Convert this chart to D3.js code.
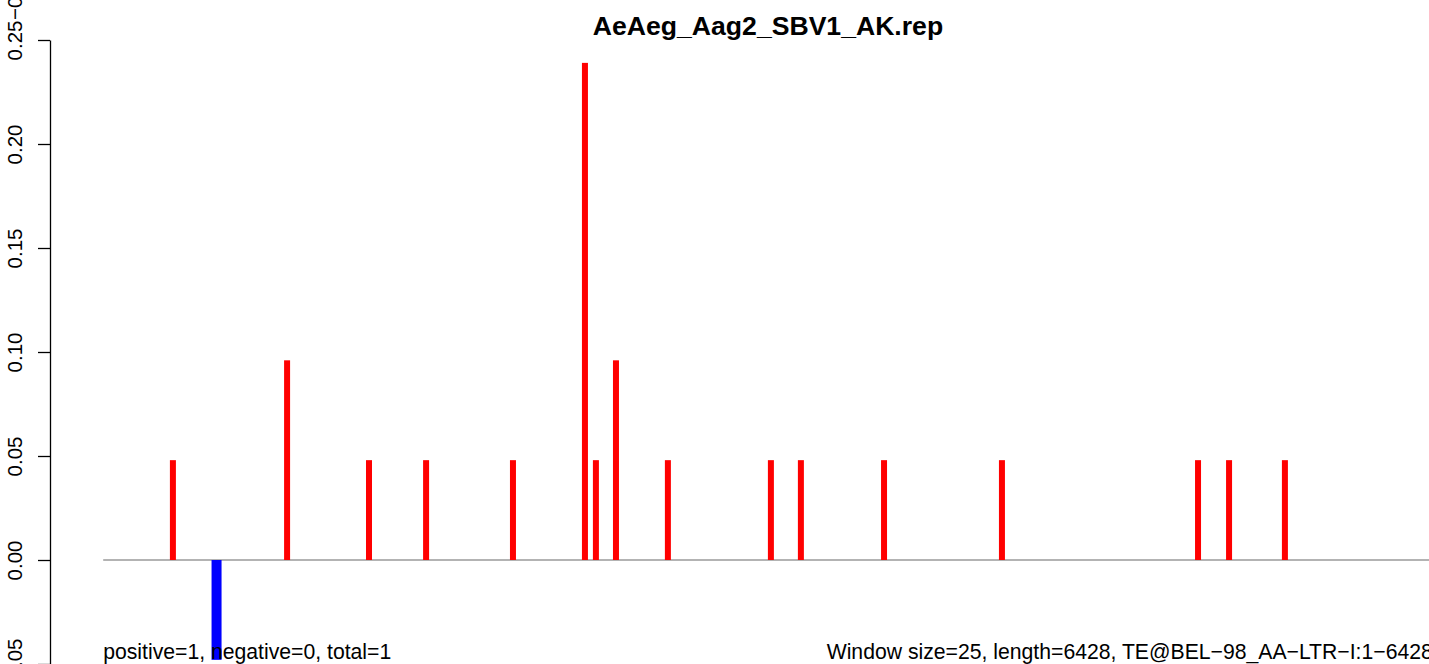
<!DOCTYPE html>
<html>
<head>
<meta charset="utf-8">
<script src="https://cdn.jsdelivr.net/npm/d3@7"></script>
<style>
  html, body { margin: 0; padding: 0; background: #fff; overflow: hidden; }
  text { font-family: "Liberation Sans", Arial, Helvetica, sans-serif; }
</style>
</head>
<body>
<svg id="chart" width="1429" height="664"></svg>
<script>
// ---- data ----
const titleText = "AeAeg_Aag2_SBV1_AK.rep";
const seqLength = 6428;
const posPositions = [337, 889, 1285, 1561, 1981, 2329, 2382, 2479, 2730, 3228, 3373, 3775, 4345, 5293, 5443, 5713];
const posValues    = [0.048, 0.096, 0.048, 0.048, 0.048, 0.239, 0.048, 0.096, 0.048, 0.048, 0.048, 0.048, 0.048, 0.048, 0.048, 0.048];
const negPositions = [548];
const negValues    = [-0.048];
const yTicks = [-0.05, 0, 0.05, 0.10, 0.15, 0.20, 0.25];
const leftNote = "positive=1, negative=0, total=1";
const rightNote = "Window size=25, length=6428, TE@BEL\u221298_AA\u2212LTR\u2212I:1\u22126428";
const abovePanelLabel = "\u22120.05";

// ---- layout ----
const svg = d3.select("#chart");
const plotLeft = 103.2, plotRight = 1432.8;
const axisX = 50;
const labelSize = "21.2px";

const x = d3.scaleLinear().domain([0, seqLength]).range([plotLeft, plotRight]);
const y = d3.scaleLinear().domain([-0.05, 0.25]).range([664, 40]);

const fmt = v => d3.format(".2f")(v).replace("-", "\u2212");

// zero line
svg.append("line")
  .attr("x1", x(0)).attr("x2", x(seqLength))
  .attr("y1", y(0)).attr("y2", y(0))
  .attr("stroke", "#9a9a9a").attr("stroke-width", 1.5);

// positive bars
const redW = 6;
svg.append("g").selectAll("rect").data(posPositions.map((p, i) => ({p, v: posValues[i]})))
  .join("rect")
  .attr("x", d => x(d.p) - redW / 2)
  .attr("width", redW)
  .attr("y", d => y(d.v))
  .attr("height", d => y(0) - y(d.v))
  .attr("fill", "#ff0000");

// negative bars
const blueW = 10;
svg.append("g").selectAll("rect").data(negPositions.map((p, i) => ({p, v: negValues[i]})))
  .join("rect")
  .attr("x", d => x(d.p) - blueW / 2)
  .attr("width", blueW)
  .attr("y", y(0))
  .attr("height", d => y(d.v) - y(0))
  .attr("fill", "#0000ff");

// y axis
const yAxis = d3.axisLeft(y).tickValues(yTicks).tickFormat(fmt).tickSize(12).tickSizeOuter(0);
const ag = svg.append("g").attr("transform", `translate(${axisX},0)`).call(yAxis);
ag.select(".domain").attr("stroke", "#000").attr("stroke-width", 1.3);
ag.selectAll(".tick line").attr("stroke", "#000").attr("stroke-width", 1.3);
ag.selectAll(".tick text")
  .attr("transform", "rotate(-90)")
  .attr("x", 0).attr("y", -28).attr("dy", 0)
  .attr("text-anchor", "middle")
  .attr("fill", "#000")
  .style("font-size", "20.5px")
  .style("font-family", "'Liberation Sans', Arial, sans-serif");

// label of the panel above (clipped at top)
svg.append("text")
  .attr("transform", `translate(22,20) rotate(-90)`)
  .attr("text-anchor", "start")
  .style("font-size", "20.5px")
  .text(abovePanelLabel);

// title
svg.append("text")
  .attr("x", 768)
  .attr("y", 35)
  .attr("text-anchor", "middle")
  .style("font-size", "26.6px").style("font-weight", "bold")
  .text(titleText);

// notes
svg.append("text")
  .attr("x", plotLeft).attr("y", 659)
  .attr("text-anchor", "start")
  .style("font-size", labelSize)
  .text(leftNote);
svg.append("text")
  .attr("x", plotRight).attr("y", 659)
  .attr("text-anchor", "end")
  .style("font-size", labelSize)
  .text(rightNote);
</script>
</body>
</html>
